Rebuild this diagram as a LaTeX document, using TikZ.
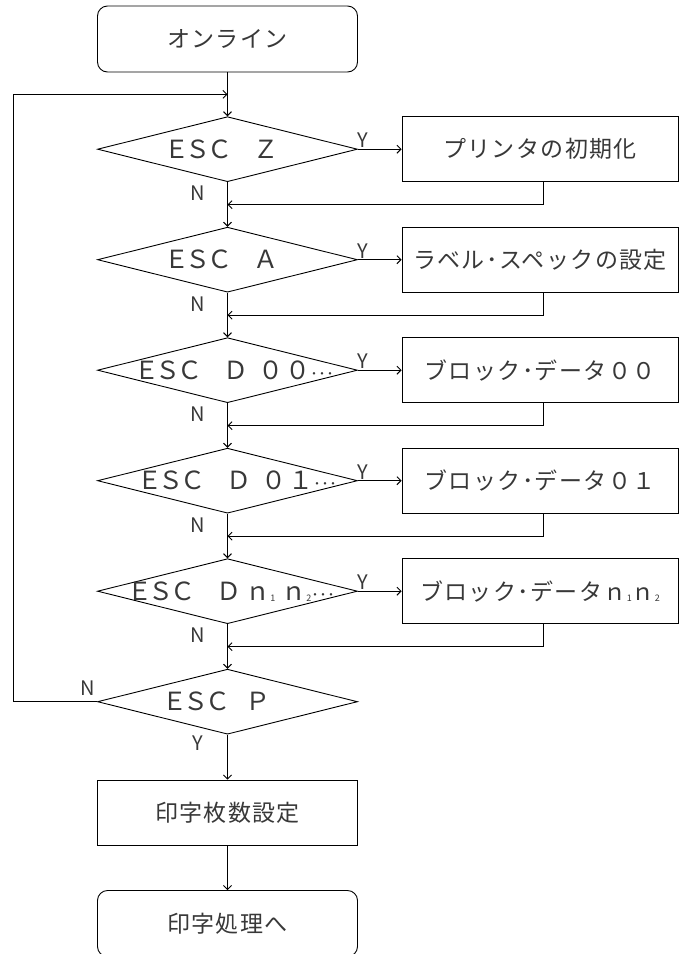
\documentclass[tikz,border=0pt]{standalone}
\usepackage{fontspec}
\usetikzlibrary{shapes.geometric,arrows.meta}
\newfontfamily\jpfont[LetterSpace=6]{Noto Sans CJK JP}
\newfontfamily\escfont[LetterSpace=-14]{Noto Sans CJK JP}
\newfontfamily\ynfont{Noto Sans CJK JP}
\newcommand{\jt}{\fontsize{23}{25}\jpfont}
\newcommand{\et}{\fontsize{25}{27}\escfont}
\newcommand{\nsub}[1]{\raisebox{-1pt}{\fontsize{9}{9}\ynfont #1}}
\newcommand{\tdots}{{\fontsize{15}{15}\ynfont ･\hspace{0.5pt}･\hspace{0.5pt}･}}
\begin{document}
\begin{tikzpicture}[x=1pt,y=-1pt,line width=0.9pt,
  term/.style={draw, rectangle, rounded corners=10pt, minimum width=260pt, minimum height=66pt, inner sep=0pt, text=black!78, font=\jt},
  dec/.style={draw, diamond, aspect=4, minimum width=260pt, minimum height=65pt, inner sep=0pt},
  proc/.style={draw, rectangle, minimum height=65pt, inner sep=0pt, text=black!78, font=\jt},
  dtxt/.style={anchor=west, inner sep=0pt, text=black!78, font=\et},
  yn/.style={inner sep=0pt, text=black!78, font=\fontsize{20}{20}\ynfont},
  arr/.style={-{Straight Barb[length=4pt,width=8pt]}}]
\useasboundingbox (0,0) rectangle (678,954);

\node[term] (start) at (227.5,39) {オンライン};

\node[dec] (dz) at (227.5,149.2) {};
\node[dec] (da) at (227.5,259.7) {};
\node[dec] (d0) at (227.5,370.2) {};
\node[dec] (d1) at (227.5,480.7) {};
\node[dec] (dn) at (227.5,591.2) {};
\node[dec] (dp) at (227.5,701.7) {};

\node[dtxt] (tz) at (164,149.2) {ＥＳＣ\hspace{21pt}Ｚ};
\node[dtxt] (ta) at (164,259.7) {ＥＳＣ\hspace{21pt}Ａ};
\node[dtxt] (t0) at (134,370.2) {ＥＳＣ\hspace{21pt}Ｄ\hspace{10pt}０\hspace{2pt}０\tdots};
\node[dtxt] (t1) at (137,480.7) {ＥＳＣ\hspace{21pt}Ｄ\hspace{10pt}０\hspace{2pt}１\tdots};
\node[dtxt] (tn) at (127,591.2) {ＥＳＣ\hspace{21pt}Ｄ\hspace{4pt}ｎ\nsub{1}\hspace{6pt}ｎ\nsub{2}\tdots};
\node[dtxt] (tp) at (162,701.7) {ＥＳＣ\hspace{15pt}Ｐ};

\node[proc, minimum width=276pt] (bz) at (540,149.2) {プリンタの初期化};
\node[proc, minimum width=276pt] (ba) at (540,259.7) {ラベル･スペックの設定};
\node[proc, minimum width=276pt] (b0) at (540,370.2) {ブロック･データ００};
\node[proc, minimum width=276pt] (b1) at (540,480.7) {ブロック･データ０１};
\node[proc, minimum width=276pt] (bn) at (540,591.2) {ブロック･データｎ\nsub{1}ｎ\nsub{2}};

\node[proc, minimum width=260pt] (cnt) at (227.5,812.5) {印字枚数設定};
\node[term] (end) at (227.5,923.5) {印字処理へ};

% Y / N labels
\node[yn] (yz) at (363,140.2) {Y};
\node[yn] (ya) at (363,250.7) {Y};
\node[yn] (y0) at (363,361.2) {Y};
\node[yn] (y1) at (363,471.7) {Y};
\node[yn] (yw) at (363,582.2) {Y};
\node[yn] (nz) at (197.5,193.2) {N};
\node[yn] (na) at (197.5,303.7) {N};
\node[yn] (n0) at (197.5,414.2) {N};
\node[yn] (n1) at (197.5,524.7) {N};
\node[yn] (nw) at (197.5,635.2) {N};
\node[yn] (np) at (88,688) {N};
\node[yn] (yp) at (198,743.5) {Y};

% main flow
\draw[arr] (start.south) -- (dz.north);
\draw[arr] (dz.south) -- (da.north);
\draw[arr] (da.south) -- (d0.north);
\draw[arr] (d0.south) -- (d1.north);
\draw[arr] (d1.south) -- (dn.north);
\draw[arr] (dn.south) -- (dp.north);
\draw[arr] (dp.south) -- (cnt.north);
\draw[arr] (cnt.south) -- (end.north);

% yes branches
\draw[arr] (dz.east) -- (bz.west);
\draw[arr] (da.east) -- (ba.west);
\draw[arr] (d0.east) -- (b0.west);
\draw[arr] (d1.east) -- (b1.west);
\draw[arr] (dn.east) -- (bn.west);

% returns
\coordinate (rz) at (543,204.7);
\coordinate (ra) at (543,315.2);
\coordinate (r0) at (543,425.7);
\coordinate (r1) at (543,536.2);
\coordinate (rn) at (543,646.7);
\draw[arr] (bz.south -| rz) -- (rz) -- (rz -| dz.south);
\draw[arr] (ba.south -| ra) -- (ra) -- (ra -| da.south);
\draw[arr] (b0.south -| r0) -- (r0) -- (r0 -| d0.south);
\draw[arr] (b1.south -| r1) -- (r1) -- (r1 -| d1.south);
\draw[arr] (bn.south -| rn) -- (rn) -- (rn -| dn.south);

% loop back
\coordinate (lp) at (13.3,94.3);
\draw[arr] (dp.west) -- (dp.west -| lp) -- (lp) -- (lp -| start.south);
\end{tikzpicture}
\end{document}
